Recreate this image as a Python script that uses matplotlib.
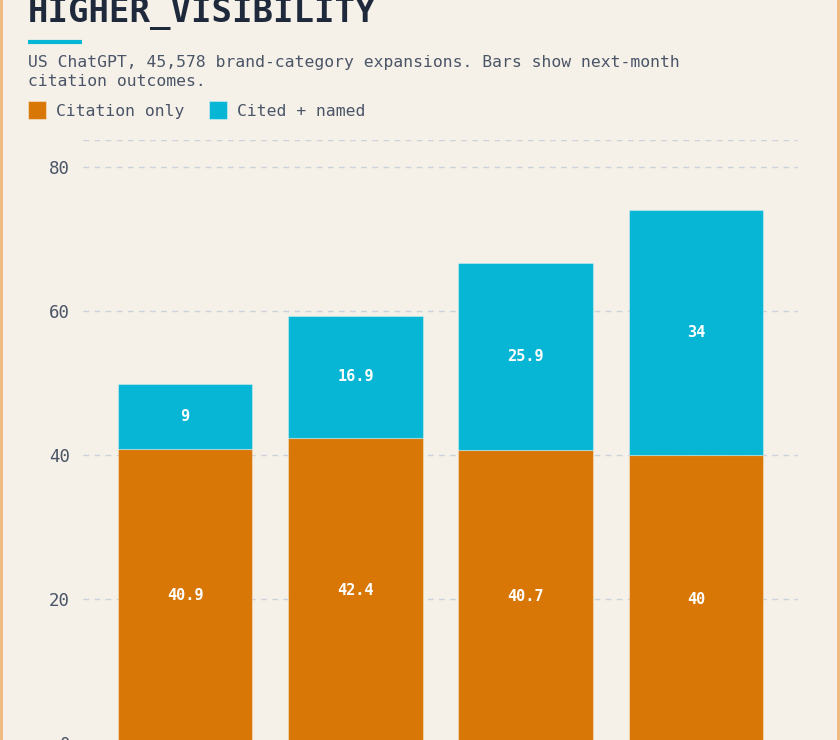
import matplotlib
matplotlib.use("Agg")
import matplotlib.pyplot as plt
from matplotlib.patches import Rectangle
from matplotlib.lines import Line2D
import numpy as np

categories = ["A", "B", "C", "D"]
citation_only = [40.9, 42.4, 40.7, 40]
cited_named = [9, 16.9, 25.9, 34]
y_ticks = [0, 20, 40, 60, 80]

title = "HIGHER_VISIBILITY"
subtitle_lines = ["US ChatGPT, 45,578 brand-category expansions. Bars show next-month",
                  "citation outcomes."]
legend_labels = ["Citation only", "Cited + named"]

ORANGE = "#D97706"
CYAN = "#06B6D4"
BG = "#F5F0E8"
INK = "#1E293B"
SLATE = "#4A5568"
GRID = "#CBD2D9"
FONT = ["DejaVu Sans Mono"]

W, H = 840, 740
fig = plt.figure(figsize=(W / 100, H / 100), dpi=100, facecolor=BG)

def fx(px):
    return px / W

def fy(py):
    return (H - py) / H

# frame
fig.patches.append(Rectangle((fx(1), fy(760)), fx(837), 800 / H, transform=fig.transFigure,
                             facecolor="none", edgecolor="#F0B77A", linewidth=2, zorder=0))

# title
fig.text(fx(28), fy(22), title, fontsize=24.5, fontweight="bold", color=INK,
         family=FONT, ha="left", va="baseline")
# accent line
fig.lines.append(Line2D([fx(28), fx(82)], [fy(42), fy(42)], transform=fig.transFigure,
                        color=CYAN, linewidth=3, solid_capstyle="butt"))
# subtitle
for line, yb in zip(subtitle_lines, [67, 86]):
    fig.text(fx(28), fy(yb), line, fontsize=11.8, color=SLATE, family=FONT,
             ha="left", va="baseline")

# legend
for lab, col, x0 in zip(legend_labels, [ORANGE, CYAN], [28, 209]):
    fig.patches.append(Rectangle((fx(x0), fy(119)), fx(18), 18 / H, transform=fig.transFigure,
                                 facecolor=col, edgecolor=(1, 1, 1, 0.4), linewidth=0.8))
    fig.text(fx(x0 + 28), fy(116), lab, fontsize=11.8, color=SLATE, family=FONT,
             ha="left", va="baseline")

# axes
y_top = 83.75
ax_bottom_px = 743
ax_top_px = 140
ax = fig.add_axes([fx(83), fy(ax_bottom_px), fx(798) - fx(83), (ax_bottom_px - ax_top_px) / H])
ax.set_facecolor("none")
x = np.arange(len(categories))
ax.set_xlim(-0.6, 3.6)
ax.set_ylim(0, y_top)

for yv in y_ticks[1:] + [y_top]:
    ax.axhline(yv, color=GRID, linestyle=(0, (4, 4)), linewidth=1, zorder=0)

ax.bar(x, citation_only, width=0.79, color=ORANGE, edgecolor=(1, 1, 1, 0.35),
       linewidth=0.8, zorder=2)
ax.bar(x, cited_named, width=0.79, bottom=citation_only, color=CYAN,
       edgecolor=(1, 1, 1, 0.35), linewidth=0.8, zorder=2)

for xi, a, b in zip(x, citation_only, cited_named):
    ax.text(xi, a / 2, f"{a:g}", ha="center", va="center", color="white",
            fontsize=11, fontweight="bold", family=FONT, zorder=3)
    ax.text(xi, a + b / 2, f"{b:g}", ha="center", va="center", color="white",
            fontsize=11, fontweight="bold", family=FONT, zorder=3)

ax.set_yticks(y_ticks)
ax.set_yticklabels([str(t) for t in y_ticks], family=FONT, fontsize=12.5, color=SLATE)
ax.tick_params(axis="y", length=0, pad=9.4)
ax.set_xticks([])
for s in ax.spines.values():
    s.set_visible(False)

fig.savefig("out.png", dpi=100, facecolor=BG)
